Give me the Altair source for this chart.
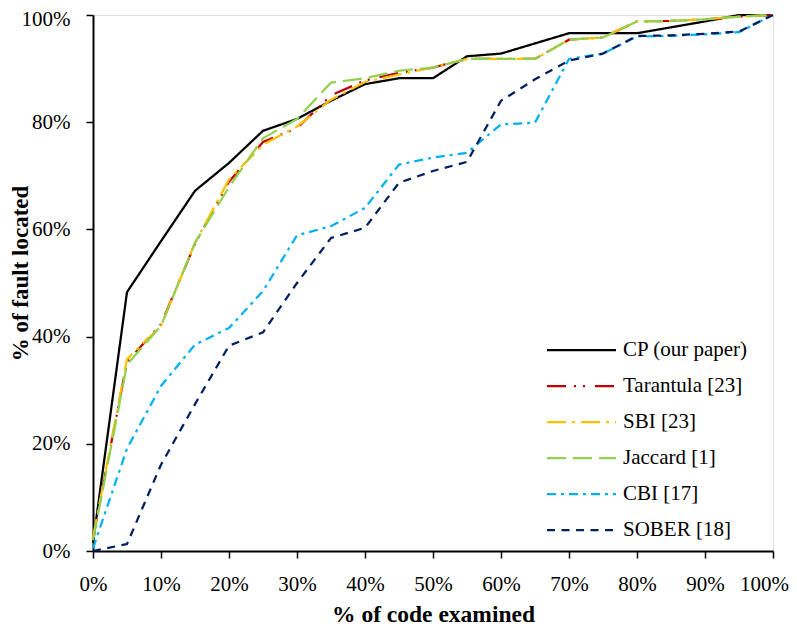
import altair as alt
import pandas as pd

x_pct = [0, 5, 10, 15, 20, 25, 30, 35, 40, 45, 50, 55, 60, 65, 70, 75, 80, 85, 90, 95, 100]

series_names = ["CP (our paper)", "Tarantula [23]", "SBI [23]", "Jaccard [1]", "CBI [17]", "SOBER [18]"]
series_colors = ["#000000", "#C00000", "#FFC000", "#92D050", "#00B0F0", "#002060"]
series_dashes = [[1, 0], [19, 8, 2, 7, 2, 10], [19, 6, 3, 6], [19, 7], [9, 5, 3, 5], [8, 6.5]]

cp = [1.5, 48.3, 57.8, 67.2, 72.4, 78.4, 80.6, 84.0, 87.1, 88.2, 88.2, 92.3, 92.8, 94.7, 96.6, 96.6, 96.6, 97.7, 98.8, 100, 100]
tarantula = [2.5, 35.3, 42.3, 57.3, 68.9, 76.3, 78.9, 85.0, 87.8, 89.2, 90.2, 91.8, 91.8, 91.8, 95.4, 95.8, 98.8, 98.9, 99.2, 99.7, 100]
sbi = [2.5, 35.8, 42.0, 57.5, 69.3, 75.8, 79.2, 84.2, 87.5, 88.9, 90.2, 91.8, 91.8, 91.8, 95.4, 95.8, 98.8, 98.9, 99.2, 99.7, 100]
jaccard = [2.0, 34.8, 42.0, 57.5, 67.9, 77.0, 80.6, 87.4, 88.2, 89.6, 90.2, 91.8, 91.8, 91.8, 95.4, 95.8, 98.8, 98.9, 99.2, 99.7, 100]
cbi = [0.5, 19.1, 30.8, 38.5, 41.6, 48.5, 58.9, 60.6, 64.0, 72.1, 73.4, 74.3, 79.6, 79.9, 91.8, 92.8, 96.0, 96.1, 96.4, 96.8, 100]
sober = [0.0, 1.3, 16.1, 27.4, 38.3, 40.8, 50.0, 58.4, 60.3, 68.7, 70.9, 72.6, 84.0, 88.0, 91.5, 92.8, 96.1, 96.2, 96.5, 96.9, 100]

all_values = [cp, tarantula, sbi, jaccard, cbi, sober]

rows = []
for name, vals in zip(series_names, all_values):
    for i, (xv, yv) in enumerate(zip(x_pct, vals)):
        rows.append({"series": name, "x": xv, "y": yv, "i": i})
df = pd.DataFrame(rows)

FONT = "Liberation Serif, 'Times New Roman', 'DejaVu Serif', serif"

legend_kwargs = dict(orient="none", legendX=454, legendY=324.5, title=None,
                     symbolType="M-10.5,0H58.5", symbolSize=4,
                     symbolStrokeWidth=2.25, labelFont=FONT,
                     labelFontSize=21, labelColor="black",
                     labelOffset=55, rowPadding=14, padding=0,
                     labelLimit=300)

chart = alt.Chart(df).mark_line(strokeWidth=2.25, clip=False).encode(
    x=alt.X("x:Q",
            scale=alt.Scale(domain=[0, 100], nice=False, zero=True),
            axis=alt.Axis(values=list(range(0, 101, 10)), labelExpr="datum.value + '%'",
                          title="% of code examined", grid=False,
                          titleFont=FONT, titleFontSize=23.5, titleFontWeight="bold",
                          titleColor="black", titleY=70, titleBaseline="alphabetic",
                          labelFont=FONT, labelFontSize=21, labelColor="black",
                          labelPadding=15, labelFlush=False, labelOverlap=False,
                          labelOffset={"condition": {"test": "datum.value === 100", "value": -9}, "value": 0},
                          domainColor="black", domainWidth=2, tickColor="black",
                          tickWidth=1.5, tickSize=7)),
    y=alt.Y("y:Q",
            scale=alt.Scale(domain=[0, 100], nice=False, zero=True),
            axis=alt.Axis(values=list(range(0, 101, 20)), labelExpr="datum.value + '%'",
                          title="% of fault located", grid=False,
                          titleFont=FONT, titleFontSize=23, titleFontWeight="bold",
                          titleColor="black", titleX=-66, titleY=258, titleAngle=270,
                          titleBaseline="alphabetic", titleAlign="center",
                          labelFont=FONT, labelFontSize=21, labelColor="black",
                          labelPadding=16, labelFlush=False, labelOverlap=False,
                          labelOffset={"condition": {"test": "datum.value === 100", "value": 4}, "value": 0},
                          domainColor="black", domainWidth=2, tickColor="black",
                          tickWidth=1.5, tickSize=7)),
    color=alt.Color("series:N",
                    scale=alt.Scale(domain=series_names, range=series_colors),
                    legend=alt.Legend(**legend_kwargs)),
    strokeDash=alt.StrokeDash("series:N",
                              scale=alt.Scale(domain=series_names, range=series_dashes),
                              legend=alt.Legend(**legend_kwargs)),
    order="i:Q",
).properties(
    width=680,
    height=536,
    autosize=alt.AutoSizeParams(type="none"),
    padding={"left": 85, "top": 7, "right": 16, "bottom": 75},
).configure_view(
    stroke="black", strokeWidth=2
).configure(background="white")

chart.save("out.html", embed_options={"renderer": "svg", "actions": False})
